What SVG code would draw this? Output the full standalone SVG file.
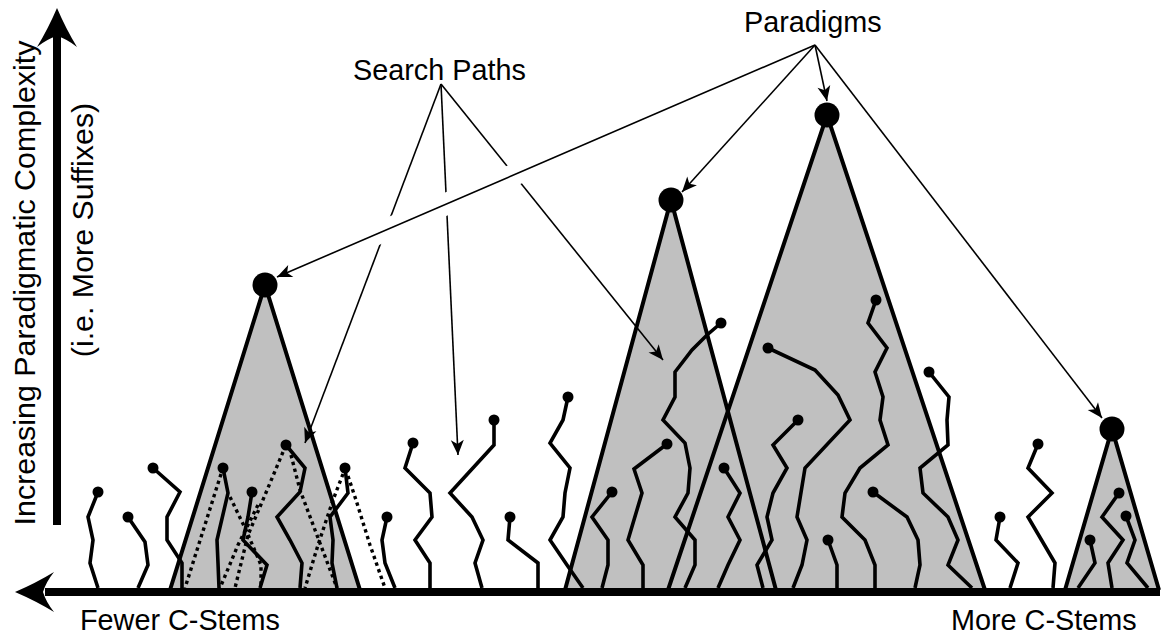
<svg xmlns="http://www.w3.org/2000/svg" width="1163" height="638" viewBox="0 0 1163 638">
  <style>
    .tri { fill: #c0c0c0; stroke: none; }
    .edge { fill: none; stroke: #000; stroke-width: 4; stroke-linejoin: miter; }
    .stem { fill: none; stroke: #000; stroke-width: 3.6; stroke-linejoin: miter; }
    .trail { fill: none; stroke: #000; stroke-width: 3.4; stroke-dasharray: 3.4 3.6; }
    .tip { fill: #000; }
    .peak { fill: #000; }
    .ptr { fill: none; stroke: #000; stroke-width: 1.6; marker-end: url(#barb); }
    .lbl { font-family: "Liberation Sans", Arial, sans-serif; font-size: 28.8px; fill: #000; }
    .side { font-size: 30.4px; }
  </style>
  <defs>
    <marker id="barb" viewBox="-16 -7 17 14" refX="0" refY="0" markerWidth="17" markerHeight="14" markerUnits="userSpaceOnUse" orient="auto">
      <path d="M0,0 L-15,-6.5 L-11,0 L-15,6.5 Z" fill="#000"/>
    </marker>
  </defs>

  <rect width="1163" height="638" fill="#fff"/>

  <!-- paradigm cones: fills first, outlines after -->
  <g id="cone-fills">
    <polygon class="tri" points="265,285 170,590 360,590"/>
    <polygon class="tri" points="671,200 565,590 776,590"/>
    <polygon class="tri" points="827,115 668,590 985,590"/>
    <polygon class="tri" points="1112,429 1065,590 1159,590"/>
  </g>
  <g id="cone-edges">
    <polyline class="edge" points="170,590 265,285 360,590"/>
    <polyline class="edge" points="565,590 671,200 776,590"/>
    <polyline class="edge" points="668,590 827,115 985,590"/>
    <polyline class="edge" points="1065,590 1112,429 1159,590"/>
  </g>

  <!-- dotted trails inside the first cone -->
  <g id="trails">
    <polyline class="trail" points="221,474 185,588"/>
    <polyline class="trail" points="230,497 246,530 261,565 261,588"/>
    <polyline class="trail" points="258,505 238,545 220,588"/>
    <polyline class="trail" points="283,452 265,495 248,535 235,588"/>
    <polyline class="trail" points="291,455 300,490 315,530 337,588"/>
    <polyline class="trail" points="343,474 333,500 318,545 305,588"/>
    <polyline class="trail" points="348,476 356,500 370,545 385,588"/>
  </g>

  <!-- stems: each rises from the base line and ends in a dot -->
  <g id="stems">
    <g id="stem-a"><polyline class="stem" points="98,492 88,517 93,540 90,563 98,588"/><circle class="tip" cx="98" cy="492" r="5.5"/></g>
    <g id="stem-b"><polyline class="stem" points="128,517 145,542 148,565 138,588"/><circle class="tip" cx="128" cy="517" r="5.5"/></g>
    <g id="stem-c"><polyline class="stem" points="153,468 180,492 167,517 167,540 182,563 182,588"/><circle class="tip" cx="153" cy="468" r="5.5"/></g>
    <g id="stem-d"><polyline class="stem" points="223,468 228,493 217,540 218,563 219,588"/><circle class="tip" cx="223" cy="468" r="5.5"/></g>
    <g id="stem-e"><polyline class="stem" points="252,492 248,517 243,540 267,565 260,588"/><circle class="tip" cx="252" cy="492" r="5.5"/></g>
    <g id="stem-f"><polyline class="stem" points="286,445 305,468 300,492 277,517 290,540 302,563 300,588"/><circle class="tip" cx="286" cy="445" r="5.5"/></g>
    <g id="stem-g"><polyline class="stem" points="345,468 348,493 330,517 333,540 332,563 337,588"/><circle class="tip" cx="345" cy="468" r="5.5"/></g>
    <g id="stem-h"><polyline class="stem" points="387,517 382,540 385,563 395,588"/><circle class="tip" cx="387" cy="517" r="5.5"/></g>
    <g id="stem-i"><polyline class="stem" points="413,443 405,468 430,493 432,517 415,540 430,563 430,588"/><circle class="tip" cx="413" cy="443" r="5.5"/></g>
    <g id="stem-j"><polyline class="stem" points="494,420 494,445 450,493 472,517 483,540 475,563 482,588"/><circle class="tip" cx="494" cy="420" r="5.5"/></g>
    <g id="stem-k"><polyline class="stem" points="510,517 508,540 538,563 538,588"/><circle class="tip" cx="510" cy="517" r="5.5"/></g>
    <g id="stem-l"><polyline class="stem" points="568,397 563,420 550,443 570,468 565,493 563,517 550,540 567,565 583,588"/><circle class="tip" cx="568" cy="397" r="5.5"/></g>
    <g id="stem-n"><polyline class="stem" points="612,492 592,517 608,540 608,565 602,588"/><circle class="tip" cx="612" cy="492" r="5.5"/></g>
    <g id="stem-o"><polyline class="stem" points="667,444 634,469 642,493 628,540 643,565 643,588"/><circle class="tip" cx="667" cy="444" r="5.5"/></g>
    <g id="stem-p"><polyline class="stem" points="721,323 707,335 692,350 675,372 675,397 663,420 685,443 690,468 688,493 675,517 695,540 695,565 685,588"/><circle class="tip" cx="721" cy="323" r="5.5"/></g>
    <g id="stem-q"><polyline class="stem" points="724,468 740,493 728,517 740,540 728,565 718,588"/><circle class="tip" cx="724" cy="468" r="5.5"/></g>
    <g id="stem-r"><polyline class="stem" points="768,348 815,370 838,395 850,420 805,468 797,517 807,540 802,565 793,588"/><circle class="tip" cx="768" cy="348" r="5.5"/></g>
    <g id="stem-s"><polyline class="stem" points="798,420 773,445 787,468 773,493 767,517 772,540 757,565 763,588"/><circle class="tip" cx="798" cy="420" r="5.5"/></g>
    <g id="stem-t"><polyline class="stem" points="876,300 868,323 887,348 875,372 883,397 880,420 888,445 860,468 845,493 842,517 865,540 875,565 875,588"/><circle class="tip" cx="876" cy="300" r="5.5"/></g>
    <g id="stem-u"><polyline class="stem" points="873,492 907,517 918,540 920,565 915,588"/><circle class="tip" cx="873" cy="492" r="5.5"/></g>
    <g id="stem-v"><polyline class="stem" points="828,540 837,565 837,588"/><circle class="tip" cx="828" cy="540" r="5.5"/></g>
    <g id="stem-w"><polyline class="stem" points="929,372 949,397 947,420 948,445 920,468 923,493 948,517 958,540 948,565 972,588"/><circle class="tip" cx="929" cy="372" r="5.5"/></g>
    <g id="stem-x"><polyline class="stem" points="1000,517 996,540 1018,563 1010,588"/><circle class="tip" cx="1000" cy="517" r="5.5"/></g>
    <g id="stem-y"><polyline class="stem" points="1038,444 1028,468 1052,493 1028,517 1055,563 1053,588"/><circle class="tip" cx="1038" cy="444" r="5.5"/></g>
    <g id="stem-z1"><polyline class="stem" points="1119,493 1102,517 1123,540 1108,563 1112,588"/><circle class="tip" cx="1119" cy="493" r="5.5"/></g>
    <g id="stem-z2"><polyline class="stem" points="1126,516 1135,540 1127,563 1148,588"/><circle class="tip" cx="1126" cy="516" r="5.5"/></g>
    <g id="stem-z3"><polyline class="stem" points="1090,540 1095,563 1078,588"/><circle class="tip" cx="1090" cy="540" r="5.5"/></g>
  </g>

  <!-- paradigm peaks -->
  <g id="peak-1"><circle class="peak" cx="265" cy="285" r="12.5"/></g>
  <g id="peak-2"><circle class="peak" cx="671" cy="200" r="12.5"/></g>
  <g id="peak-3"><circle class="peak" cx="827" cy="115" r="12.5"/></g>
  <g id="peak-4"><circle class="peak" cx="1112" cy="429" r="12.5"/></g>

  <!-- axes -->
  <g id="axis-x">
    <line x1="1160" y1="592" x2="45" y2="592" stroke="#000" stroke-width="8"/>
    <path d="M15,592 Q36,583 54,572 Q46,582 43,592 Q46,602 54,612 Q36,601 15,592 Z" fill="#000"/>
  </g>
  <g id="axis-y">
    <line x1="57" y1="525" x2="57" y2="36" stroke="#000" stroke-width="8"/>
    <path d="M57,8 Q66,29 77,47 Q67,39 57,36 Q47,39 37,47 Q48,29 57,8 Z" fill="#000"/>
  </g>

  <!-- pointer lines from the labels -->
  <g id="connectors">
    <line class="ptr" x1="441" y1="84" x2="305" y2="443"/>
    <line class="ptr" x1="441" y1="84" x2="458" y2="455"/>
    <line class="ptr" x1="441" y1="84" x2="663" y2="360"/>
    <!-- white gap where the long paradigm pointer crosses the search pointers -->
    <line x1="370" y1="236.9" x2="530" y2="167.9" stroke="#fff" stroke-width="22"/>
    <line class="ptr" x1="815" y1="45" x2="277" y2="277"/>
    <line class="ptr" x1="815" y1="45" x2="682" y2="192"/>
    <line class="ptr" x1="815" y1="45" x2="827" y2="101"/>
    <line class="ptr" x1="815" y1="45" x2="1102" y2="418"/>
  </g>

  <!-- labels -->
  <g id="labels">
    <text class="lbl" x="353" y="80">Search Paths</text>
    <text class="lbl" x="744" y="32">Paradigms</text>
    <text class="lbl" x="80" y="630">Fewer C-Stems</text>
    <text class="lbl" x="951" y="630">More C-Stems</text>
    <text class="lbl side" transform="translate(35,283) rotate(-90)" text-anchor="middle">Increasing Paradigmatic Complexity</text>
    <text class="lbl side" transform="translate(93,230) rotate(-90)" text-anchor="middle">(i.e. More Suffixes)</text>
  </g>
</svg>
